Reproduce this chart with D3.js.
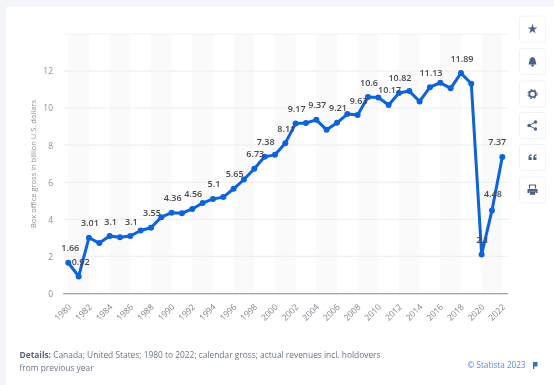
<!DOCTYPE html>
<html><head><meta charset="utf-8">
<script src="https://cdn.jsdelivr.net/npm/d3@7"></script>
<style>
html,body{margin:0;padding:0;background:#f4f5f8;overflow:hidden}
svg{display:block;filter:blur(0.55px)}
text{font-family:"Open Sans","Noto Sans",sans-serif}
</style></head><body>
<div id="chart"></div>
<script>
const years = d3.range(1980, 2023);
const grossValues = [1.66,0.92,3.01,2.72,3.1,3.03,3.1,3.4,3.55,4.12,4.36,4.33,4.56,4.88,5.1,5.2,5.65,6.15,6.73,7.38,7.48,8.11,9.17,9.2,9.37,8.83,9.21,9.68,9.63,10.6,10.57,10.17,10.82,10.92,10.36,11.13,11.37,11.07,11.89,11.32,2.11,4.48,7.37];
const labelledYears = [1980,1981,1982,1984,1986,1988,1990,1992,1994,1996,1998,1999,2001,2002,2004,2006,2008,2009,2011,2012,2015,2018,2020,2021,2022];
const labelShift = {1981:[2,0],1982:[1,0],1988:[1,0],1980:[2,0],2022:[-5,0],2021:[1,-2],2020:[1,0],2008:[1,0],2009:[1,0]};
const yTicks = [0,2,4,6,8,10,12];
const xTickYears = d3.range(1980, 2023, 2);
const bandStarts = d3.range(1980, 2021, 4);
const yTitle = "Box office gross in billion U.S. dollars";
const detailsLines = [["Details:"," Canada; United States; 1980 to 2022; calendar gross; actual revenues incl. holdovers"],["","from previous year"]];
const credit = "© Statista 2023";

const W=554,H=385;
const svg=d3.select("#chart").append("svg").attr("width",W).attr("height",H);
svg.append("rect").attr("x",6).attr("y",7).attr("width",W-6).attr("height",H-7).attr("fill","#fff");
const x=d3.scaleLinear().domain([1980,2022]).range([68.3,502.3]);
const y=d3.scaleLinear().domain([0,14]).range([293.5,34]);

svg.append("g").selectAll("rect").data(bandStarts).join("rect")
 .attr("x",d=>x(d)).attr("y",y(14)).attr("width",d=>x(d+2)-x(d)).attr("height",y(0)-y(14)).attr("fill","#fafafb");

svg.append("g").selectAll("line").data(yTicks.slice(1).concat([14])).join("line")
 .attr("x1",64).attr("x2",508).attr("y1",d=>y(d)).attr("y2",d=>y(d)).attr("stroke","#f0f0f2").attr("stroke-width",1.2);

const yAxis=d3.axisLeft(y).tickValues(yTicks).tickSize(0).tickPadding(10).tickFormat(d3.format("d"));
const gy=svg.append("g").attr("transform","translate(63,0)").call(yAxis);
gy.select(".domain").remove();
gy.selectAll("text").attr("font-size",8.5).attr("fill","#8a8f96").style("font-family",'"Open Sans"').attr("dy","0.33em");

svg.append("line").attr("x1",63).attr("x2",508).attr("y1",y(0)+0.3).attr("y2",y(0)+0.3).attr("stroke","#85888c").attr("stroke-width",1.1);

const xAxis=d3.axisBottom(x).tickValues(xTickYears).tickSize(0).tickFormat(d3.format("d"));
const gx=svg.append("g").attr("transform",`translate(0,${y(0)})`).call(xAxis);
gx.select(".domain").remove();
gx.selectAll("text").attr("font-size",8.5).attr("fill","#7d8288").style("font-family",'"Open Sans"')
 .attr("text-anchor","end").attr("dy",0).attr("y",0).attr("transform","translate(3,14) rotate(-45)");

svg.append("text").attr("transform","translate(36,164) rotate(-90)").attr("text-anchor","middle")
 .attr("font-size",7.5).attr("fill","#8a8f96").text(yTitle);

const line=d3.line().x((d,i)=>x(years[i])).y(d=>y(d));
svg.append("path").attr("d",line(grossValues)).attr("fill","none").attr("stroke","#0f63d8").attr("stroke-width",3).attr("stroke-linejoin","round");
svg.append("g").selectAll("circle").data(grossValues).join("circle")
 .attr("cx",(d,i)=>x(years[i])).attr("cy",d=>y(d)).attr("r",3).attr("fill","#0f63d8");

svg.append("g").selectAll("text").data(labelledYears).join("text")
 .attr("x",d=>x(d)+(labelShift[d]?labelShift[d][0]:1)).attr("y",d=>y(grossValues[years.indexOf(d)])-11.5+(labelShift[d]?labelShift[d][1]:0))
 .attr("text-anchor","middle").attr("font-size",9).attr("fill","#45494e").attr("font-weight",600)
 .text(d=>String(grossValues[years.indexOf(d)]).replace(/^2\.11$/,"2.1"));

const det=svg.append("g").attr("font-size",8.4).attr("fill","#6a7686");
detailsLines.forEach((l,i)=>{
 const t=det.append("text").attr("x",19.5).attr("y",358+i*13.3);
 if(l[0]) t.append("tspan").attr("font-weight",700).attr("fill","#56657a").text(l[0]);
 t.append("tspan").text(l[1]);
});
svg.append("text").attr("x",467.5).attr("y",368).attr("font-size",8.2).attr("fill","#5b8cd0").text(credit);
svg.append("path").attr("d","M533 362h4.5v4.5h-3.2v2.5h-1.3z").attr("fill","#3b6fb8");

const btnY=[16,48.5,81,112.5,144.5,177];
const btn=svg.append("g").selectAll("g").data(btnY).join("g").attr("transform",d=>`translate(519.5,${d})`);
btn.append("rect").attr("width",26).attr("height",26).attr("y",0).attr("rx",3).attr("fill","#fff").attr("stroke","#f1f2f5").attr("stroke-width",1);
const ic="#4a6285";
const icon=i=>d3.select(btn.nodes()[i]).append("g").attr("transform","translate(13,13)").attr("fill",ic);
icon(0).append("path").attr("d",d3.symbol(d3.symbolStar,30)());
let b=icon(1);b.append("path").attr("d","M-4 3 C-3 1,-3.5 -4,0 -4.5 C3.5 -4,3 1,4 3Z");b.append("circle").attr("cy",4).attr("r",1.3);
b=icon(2);b.append("circle").attr("r",3.2).attr("fill","none").attr("stroke",ic).attr("stroke-width",1.8);
b.append("circle").attr("r",4.6).attr("fill","none").attr("stroke",ic).attr("stroke-width",1).attr("stroke-dasharray","1.8 2");
b=icon(3);[[3,-3.5],[-3.5,0],[3,3.5]].forEach(p=>b.append("circle").attr("cx",p[0]).attr("cy",p[1]).attr("r",1.7));
b.append("path").attr("d","M3 -3.5L-3.5 0L3 3.5").attr("fill","none").attr("stroke",ic).attr("stroke-width",1);
b=icon(4);[-4,0.8].forEach(dx=>b.append("path").attr("d",`M${dx} 2.6h3.2v-2.8h-1.7c0-1,.5-1.5,1.7-1.7v-1.3c-2.2.2-3.2,1.5-3.2,3.4z`));
b=icon(5);b.append("path").attr("d","M-3 -1.5v-3.5h6v3.5").attr("fill","none").attr("stroke",ic).attr("stroke-width",1.2);
b.append("path").attr("d","M-5 -1h10v4h-2v-1.3h-6v1.3h-2z");b.append("rect").attr("x",-2.6).attr("y",2).attr("width",5.2).attr("height",2.8);
</script></body></html>
